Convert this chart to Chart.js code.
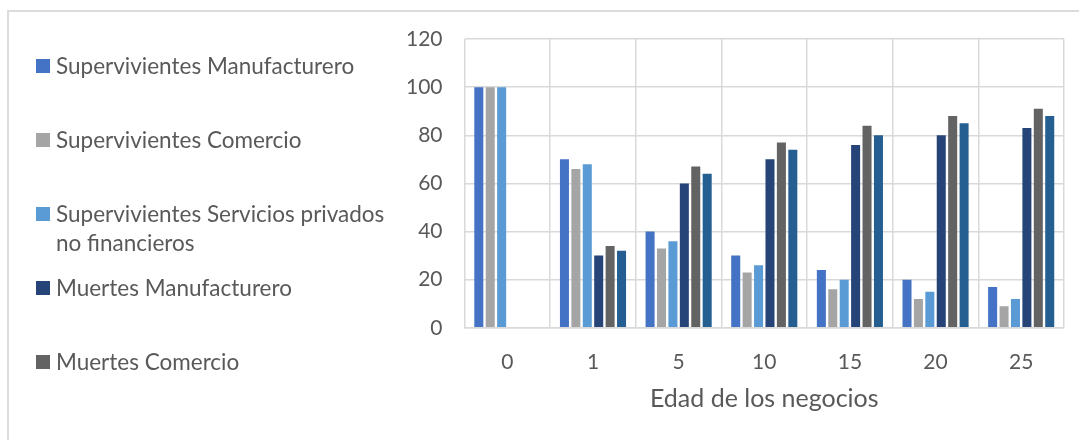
<!DOCTYPE html>
<html>
<head>
<meta charset="utf-8">
<script src="https://cdn.jsdelivr.net/npm/chart.js@4/dist/chart.umd.min.js"></script>
<style>
  html, body { margin: 0; padding: 0; background: #fff; }
  #wrap { position: relative; width: 1079px; height: 440px; overflow: hidden; }
  #frame { position: absolute; left: 7px; top: 10px; width: 1100px; height: 460px;
           border-left: 2px solid #dcdcdc; border-top: 2px solid #dcdcdc; box-sizing: border-box; }
  #c { position: absolute; left: 0; top: 0; }
  .lg { position: absolute; left: 36px; font-family: Lato, "Open Sans", sans-serif;
        font-size: 22.5px; color: #595959; line-height: 29px; }
  .lg .sw { position: absolute; left: 0; top: 8px; width: 14px; height: 14px; }
  .lg .tx { position: absolute; left: 20px; top: 0; width: 330px; white-space: normal; }
</style>
</head>
<body>
<div id="wrap">
  <div id="frame"></div>
  <canvas id="c" width="1079" height="440"></canvas>
  <div id="legend"></div>
</div>
<script>
const categories = ["0", "1", "5", "10", "15", "20", "25"];
const seriesNames = [
  "Supervivientes Manufacturero",
  "Supervivientes Comercio",
  "Supervivientes Servicios privados no financieros",
  "Muertes Manufacturero",
  "Muertes Comercio",
  "Muertes Servicios privados no financieros"
];
const supManufacturero = [100, 70, 40, 30, 24, 20, 17];
const supComercio      = [100, 66, 33, 23, 16, 12, 9];
const supServicios     = [100, 68, 36, 26, 20, 15, 12];
const muManufacturero  = [0, 30, 60, 70, 76, 80, 83];
const muComercio       = [0, 34, 67, 77, 84, 88, 91];
const muServicios      = [0, 32, 64, 74, 80, 85, 88];
const yTicks = [0, 20, 40, 60, 80, 100, 120];
const xTitle = "Edad de los negocios";

const colors = ["#4472C4", "#A5A5A5", "#5B9BD5", "#264478", "#636363", "#255E91"];
const values = [supManufacturero, supComercio, supServicios, muManufacturero, muComercio, muServicios];

// HTML legend (only first five entries are visible in the reference)
const legendTops = [51, 125, 199, 273, 347];
const legend = document.getElementById('legend');
for (let i = 0; i < 5; i++) {
  const d = document.createElement('div');
  d.className = 'lg';
  d.style.top = legendTops[i] + 'px';
  d.innerHTML = '<span class="sw" style="background:' + colors[i] + '"></span><span class="tx">' + seriesNames[i] + '</span>';
  legend.appendChild(d);
}

const FONT = "Lato, 'Open Sans', sans-serif";
new Chart(document.getElementById('c'), {
  type: 'bar',
  data: {
    labels: categories,
    datasets: values.map((v, i) => ({
      label: seriesNames[i],
      data: v,
      backgroundColor: colors[i],
      borderWidth: 0,
      categoryPercentage: 0.8,
      barPercentage: 0.79
    }))
  },
  options: {
    responsive: false,
    animation: false,
    layout: { padding: { left: 384, right: 15, top: 39, bottom: 28 } },
    plugins: { legend: { display: false }, tooltip: { enabled: false } },
    scales: {
      x: {
        grid: { offset: true, color: '#d9d9d9', lineWidth: 1.5, drawTicks: false },
        border: { color: '#d9d9d9', width: 1.5 },
        ticks: { color: '#595959', font: { family: FONT, size: 21 }, padding: 22 },
        title: { display: true, text: xTitle, color: '#595959', font: { family: FONT, size: 25 }, padding: { top: -13, bottom: -2 } }
      },
      y: {
        min: 0, max: 120,
        afterBuildTicks: (ax) => { ax.ticks = yTicks.map(v => ({ value: v })); },
        grid: { color: '#d9d9d9', lineWidth: 1.5, drawTicks: false },
        border: { display: false },
        ticks: { color: '#595959', font: { family: FONT, size: 21 }, padding: 22 }
      }
    }
  }
});
</script>
</body>
</html>
